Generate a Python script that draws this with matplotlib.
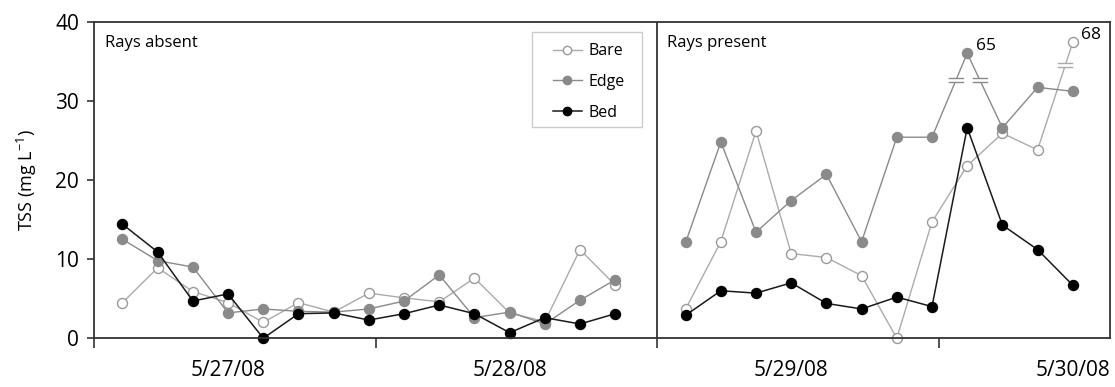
import numpy as np
import matplotlib
matplotlib.use("Agg")
import matplotlib.pyplot as plt
from matplotlib.patches import Rectangle

plt.rcParams.update({
    "font.family": ["Open Sans", "DejaVu Sans"],
    "mathtext.default": "regular",
})

# ------------------------------------------------------------
# TSS samples (mg/L), one value per sampling event
# ------------------------------------------------------------
DATES = ["5/27/08", "5/28/08", "5/29/08", "5/30/08"]

BARE_ABSENT = [4.5, 8.9, 5.9, 4.5, 2.0, 4.5, 3.3, 5.7, 5.1, 4.6, 7.6, 3.2, 2.1, 11.2, 6.7]
EDGE_ABSENT = [12.5, 9.8, 9.0, 3.2, 3.7, 3.4, 3.3, 3.7, 4.7, 8.0, 2.6, 3.3, 1.8, 4.8, 7.4]
BED_ABSENT  = [14.4, 10.9, 4.7, 5.6, 0.0, 3.1, 3.2, 2.3, 3.1, 4.2, 3.1, 0.7, 2.6, 1.8, 3.1]

BARE_PRESENT = [3.7, 12.2, 26.2, 10.7, 10.2, 7.9, 0.0, 14.7, 21.8, 25.9, 23.8, 37.4]
EDGE_PRESENT = [12.1, 24.8, 13.4, 17.4, 20.7, 12.2, 25.4, 25.4, 36.0, 26.6, 31.7, 31.2]
BED_PRESENT  = [2.9, 6.0, 5.7, 7.0, 4.4, 3.7, 5.2, 4.0, 26.6, 14.3, 11.2, 6.7]

# off-scale points: (series, sample in "present" block, measured value)
OFF_SCALE = [("Edge", 8, 65), ("Bare", 11, 68)]
# axis-break marks: (series, segment start in "present" block, y level)
BREAKS = [("Edge", 7, 32.6), ("Edge", 8, 32.6), ("Bare", 10, 34.5)]

# ------------------------------------------------------------
# Layout along x: sample index, with a gap between the two blocks
# ------------------------------------------------------------
x_absent = np.arange(len(BED_ABSENT))
x_present = np.arange(len(BED_PRESENT)) + len(BED_ABSENT) + 1
DIVIDER = len(BED_ABSENT) + 0.2
day_edges = DIVIDER + 8 * np.arange(-2, 2)
day_mid = day_edges + 3.8

styles = {
    "Bare": dict(color="#ababab", marker="o", mfc="white", mec="#9a9a9a", lw=1.0),
    "Edge": dict(color="#8a8a8a", marker="o", mfc="#8a8a8a", mec="#8a8a8a", lw=1.0),
    "Bed":  dict(color="#1a1a1a", marker="o", mfc="black", mec="black", lw=1.1),
}
series = {
    "Bare": (BARE_ABSENT, BARE_PRESENT),
    "Edge": (EDGE_ABSENT, EDGE_PRESENT),
    "Bed":  (BED_ABSENT, BED_PRESENT),
}

fig = plt.figure(figsize=(11.15, 3.87), dpi=100)
ax = fig.add_axes([0.0846, 0.126, 0.911, 0.818])

for name, (left, right) in series.items():
    st = styles[name]
    ax.plot(x_absent, left, ms=7.2, clip_on=False, label=name, **st)
    ax.plot(x_present, right, ms=7.2, clip_on=False, **st)

# break marks on segments that run off the scale
for name, i, yb in BREAKS:
    vals = series[name][1]
    y0, y1 = vals[i], vals[i + 1]
    xb = x_present[i] + (yb - y0) / (y1 - y0)
    col = styles[name]["color"]
    ax.add_patch(Rectangle((xb - 0.2, yb - 0.25), 0.4, 0.5, facecolor="white",
                           edgecolor="none", zorder=5))
    for dy in (-0.28, 0.28):
        ax.plot([xb - 0.2, xb + 0.2], [yb + dy, yb + dy], color=col, lw=1.0, zorder=6)

for name, i, val in OFF_SCALE:
    ax.annotate(f"{val}", (x_present[i], series[name][1][i]), xytext=(6, 5),
                textcoords="offset points", ha="left", va="center", fontsize=12.5)

ax.axvline(DIVIDER, color="#333333", lw=1.3)

ax.set_xlim(day_edges[0], x_present[-1] + 1.06)
ax.set_ylim(0, 40)
ax.set_yticks([0, 10, 20, 30, 40])
ax.set_xticks(day_edges)
ax.set_xticklabels([])
ax.set_xticks(day_mid, minor=True)
ax.set_xticklabels(DATES, minor=True)
ax.tick_params(axis="x", which="major", direction="out", length=7, width=1.2, color="#333333")
ax.tick_params(axis="x", which="minor", length=0, pad=16, labelsize=15)
ax.tick_params(axis="y", direction="out", length=5, width=1.2, color="#333333",
               labelsize=15, pad=6)
for sp in ax.spines.values():
    sp.set_color("#333333")
    sp.set_linewidth(1.3)

ax.set_ylabel("TSS (mg L$^{-1}$)", fontsize=13, labelpad=12)

ax.text(0.0105, 0.932, "Rays absent", transform=ax.transAxes, fontsize=12,
        ha="left", va="center")
ax.text(0.5635, 0.932, "Rays present", transform=ax.transAxes, fontsize=12,
        ha="left", va="center")

# legend box drawn separately so the padding can be set on each side
ax.add_patch(Rectangle((0.431, 0.667), 0.108, 0.300, transform=ax.transAxes,
                       facecolor="white", edgecolor="#cccccc", lw=1.0, zorder=7))
leg = ax.legend(loc="upper left", bbox_to_anchor=(0.4516, 0.932), fontsize=11.5,
                frameon=False, handlelength=1.8, handletextpad=0.4,
                labelspacing=0.93, borderpad=0, borderaxespad=0)
leg.set_zorder(8)
for h in leg.legend_handles:
    h.set_markersize(6)

fig.savefig("out.png", dpi=100)
